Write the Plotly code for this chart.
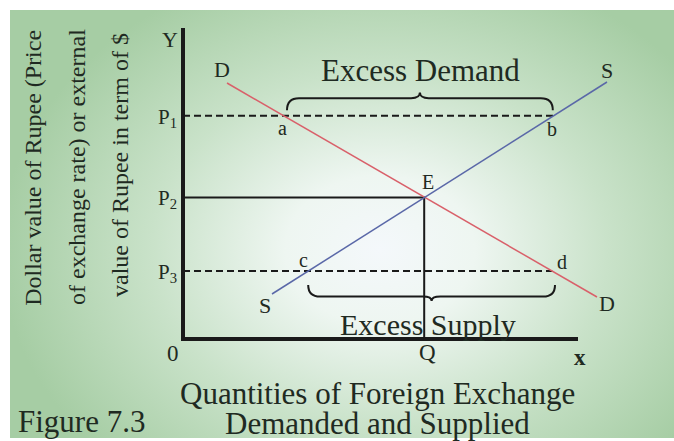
import base64
import plotly.graph_objects as go

# ---- data (arbitrary units: quantity on x, dollar value of rupee on y) ----
demand_q = [1.1, 10.35]
demand_p = [6.4, 1.05]
supply_q = [2.225, 10.6]
supply_p = [1.125, 6.425]

eq_q = 6.03          # Q
eq_p = 3.54          # P2 (equilibrium)
p1 = 5.58            # above equilibrium
p3 = 1.7             # below equilibrium

# points on the curves at P1 and P3
a_q, b_q = 2.52, 9.265   # demand / supply at P1
c_q, d_q = 3.13, 9.23    # supply / demand at P3

price_labels = ["P<sub>1</sub>", "P<sub>2</sub>", "P<sub>3</sub>"]
price_values = [p1, eq_p, p3]

x_axis_end = 9.875
y_axis_end = 7.775

TEXT = "#1f2a22"
FONT = "Liberation Serif"

fig = go.Figure()

# axes (thick black lines)
fig.add_trace(go.Scatter(x=[0, 0, x_axis_end], y=[y_axis_end, 0, 0], mode="lines",
                         line=dict(color="#1a1a1a", width=4), hoverinfo="skip"))
# dashed price lines at P1 and P3
fig.add_trace(go.Scatter(x=[0, b_q], y=[p1, p1], mode="lines",
                         line=dict(color="#1a1a1a", width=2, dash="7px,4px"), hoverinfo="skip"))
fig.add_trace(go.Scatter(x=[0, d_q], y=[p3, p3], mode="lines",
                         line=dict(color="#1a1a1a", width=2, dash="7px,4px"), hoverinfo="skip"))
# equilibrium guide lines
fig.add_trace(go.Scatter(x=[0, eq_q, eq_q], y=[eq_p, eq_p, 0], mode="lines",
                         line=dict(color="#1a1a1a", width=2), hoverinfo="skip"))
# demand and supply curves
fig.add_trace(go.Scatter(x=demand_q, y=demand_p, mode="lines",
                         line=dict(color="#d9606a", width=1.5), hoverinfo="skip"))
fig.add_trace(go.Scatter(x=supply_q, y=supply_p, mode="lines",
                         line=dict(color="#5a68a8", width=1.5), hoverinfo="skip"))


def brace(x0, x1, y_end, y_flat, y_tip, r=0.3, r2=0.22):
    xm = (x0 + x1) / 2
    return (f"M {x0},{y_end} Q {x0},{y_flat} {x0 + r},{y_flat} "
            f"L {xm - r2},{y_flat} Q {xm},{y_flat} {xm},{y_tip} "
            f"Q {xm},{y_flat} {xm + r2},{y_flat} "
            f"L {x1 - r},{y_flat} Q {x1},{y_flat} {x1},{y_end}")


fig.add_shape(type="path", path=brace(a_q + 0.08, b_q - 0.02, 5.72, 6.02, 6.16),
              line=dict(color="#1a1a1a", width=2), xref="x", yref="y")
fig.add_shape(type="path", path=brace(c_q, d_q + 0.07, 1.35, 1.06, 0.95),
              line=dict(color="#1a1a1a", width=2), xref="x", yref="y")

ann = []


def label(x, y, text, size, **kw):
    d = dict(x=x, y=y, text=text, showarrow=False, xref="x", yref="y",
             font=dict(family=FONT, size=size, color=TEXT))
    d.update(kw)
    ann.append(d)


# curve labels
label(0.975, 6.75, "D", 22)
label(10.6, 6.72, "S", 22)
label(2.05, 0.85, "S", 22)
label(10.6, 0.9, "D", 22)
label(2.475, 5.28, "a", 20)
label(9.225, 5.25, "b", 20)
label(3.0, 1.98, "c", 20)
label(9.475, 1.93, "d", 20)
label(6.125, 3.93, "E", 20)
label(5.925, 6.72, "Excess Demand", 31)
label(6.125, 0.36, "Excess Supply", 30)
label(6.1, -0.33, "Q", 23)
label(-0.25, -0.37, "0", 23)
label(9.925, -0.45, "<b>x</b>", 23)
label(-0.33, 7.5, "Y", 22)
for t, v in zip(price_labels, price_values):
    label(-0.1, v - 0.05, t, 21, xanchor="right")

# axis titles
label(-3.75, 4.28, "Dollar value of Rupee (Price", 24, textangle=-90)
label(-2.65, 4.3, "of exchange rate) or external", 24, textangle=-90)
label(-1.575, 4.35, "value of Rupee in term of $", 24, textangle=-90)
label(4.85, -1.36, "Quantities of Foreign Exchange", 31)
label(4.85, -2.1, "Demanded and Supplied", 31)
label(-4.17, -2.05, "Figure 7.3", 31, xanchor="left")

# background gradient as an inline SVG image
svg = (
    "<svg xmlns='http://www.w3.org/2000/svg' width='674' height='441'>"
    "<defs><radialGradient id='g' gradientUnits='userSpaceOnUse' cx='380' cy='250' r='380' "
    "gradientTransform='translate(380 250) scale(1 0.78) translate(-380 -250)'>"
    "<stop offset='0' stop-color='#f4f8fb'/>"
    "<stop offset='0.25' stop-color='#eef6f1'/>"
    "<stop offset='0.6' stop-color='#c9e2c9'/>"
    "<stop offset='1' stop-color='#a6cda4'/>"
    "</radialGradient></defs>"
    "<rect x='0' y='0' width='674' height='441' fill='white'/>"
    "<rect x='10' y='10' width='664' height='428' fill='url(#g)'/>"
    "</svg>"
)
src = "data:image/svg+xml;base64," + base64.b64encode(svg.encode()).decode()

fig.update_layout(
    width=674, height=441,
    margin=dict(l=0, r=0, t=0, b=0),
    paper_bgcolor="rgba(0,0,0,0)", plot_bgcolor="rgba(0,0,0,0)",
    showlegend=False,
    xaxis=dict(range=[-183 / 40, (674 - 183) / 40], visible=False, fixedrange=True),
    yaxis=dict(range=[-(441 - 339) / 40, 339 / 40], visible=False, fixedrange=True),
    annotations=ann,
    images=[dict(source=src, xref="paper", yref="paper", x=0, y=1, sizex=1, sizey=1,
                 xanchor="left", yanchor="top", sizing="stretch", layer="below")],
)

fig.write_html(
    "out.html",
    config={"displayModeBar": False},
    post_script="document.body.style.margin='0';document.body.style.overflow='hidden';",
)
